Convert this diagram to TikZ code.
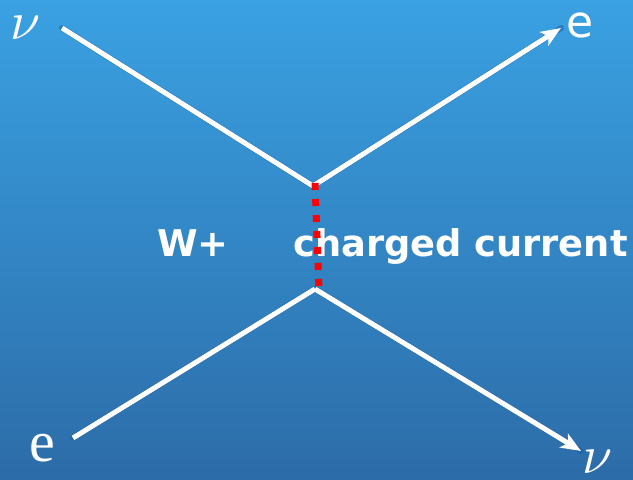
\documentclass[tikz,border=0pt]{standalone}
\usepackage{fontspec}
\setmainfont{Liberation Serif}
\newfontfamily\labsans{DejaVu Sans}
\usetikzlibrary{arrows.meta}
\definecolor{bgtop}{RGB}{58,161,226}
\definecolor{bgbot}{RGB}{44,108,168}
\definecolor{shadowblue}{RGB}{30,95,165}
\definecolor{dotred}{RGB}{255,0,0}
\newcommand{\bignu}{\scalebox{5.4}{$\nu$}}
\tikzset{
  fermion/.style={draw=white, line width=5pt},
  fshadow/.style={draw=shadowblue, line width=6pt, opacity=0.55, line cap=round},
  tip/.style={-{Stealth[length=20pt,width=16pt,inset=5pt]}},
  boson/.style={draw=dotred, line width=7pt, dash pattern=on 7pt off 9pt},
  greek/.style={text=white, inner sep=0pt},
  serife/.style={text=white, inner sep=0pt, font=\fontsize{58}{64}\selectfont},
  sanse/.style={text=white, inner sep=0pt, font=\labsans\fontsize{44}{50}\selectfont},
  caption/.style={text=white, inner sep=0pt, anchor=base west, font=\labsans\bfseries\fontsize{36.8}{40}\selectfont}
}
\begin{document}
\begin{tikzpicture}[x=1pt,y=-1pt]
\useasboundingbox (0,0) rectangle (633,480);
\shade[top color=bgtop, bottom color=bgbot] (0,0) rectangle (633,480);

\coordinate (nuin) at (62,28);
\coordinate (vtop) at (313,186);
\coordinate (eout) at (561,28);
\coordinate (ein) at (73,438);
\coordinate (vbot) at (315,289);
\coordinate (nuout) at (581,451);
\coordinate (btop) at (315,183);
\coordinate (bbot) at (319,289);

% shadows
\begin{scope}[shift={(3,4)}]
\draw[fshadow] (nuin) -- (vtop) -- (eout);
\draw[fshadow] (ein) -- (vbot) -- (nuout);
\end{scope}

% captions
\node[caption] (wlab) at (157,256) {W+};
\node[caption] (cclab) at (293,256) {charged current};

% fermion lines
\draw[fermion] (nuin) -- (vtop);
\draw[fermion, tip] (vtop) -- (eout);
\draw[fermion] (ein) -- (vbot);
\draw[fermion, tip] (vbot) -- (nuout);

% boson
\draw[boson] (btop) -- (bbot);

% labels
\node[greek] (nul) at (26,28) {\bignu};
\node[sanse] (el) at (580,25) {e};
\node[serife] (ebl) at (42,448) {e};
\node[greek] (nur) at (598,462) {\bignu};
\end{tikzpicture}
\end{document}
